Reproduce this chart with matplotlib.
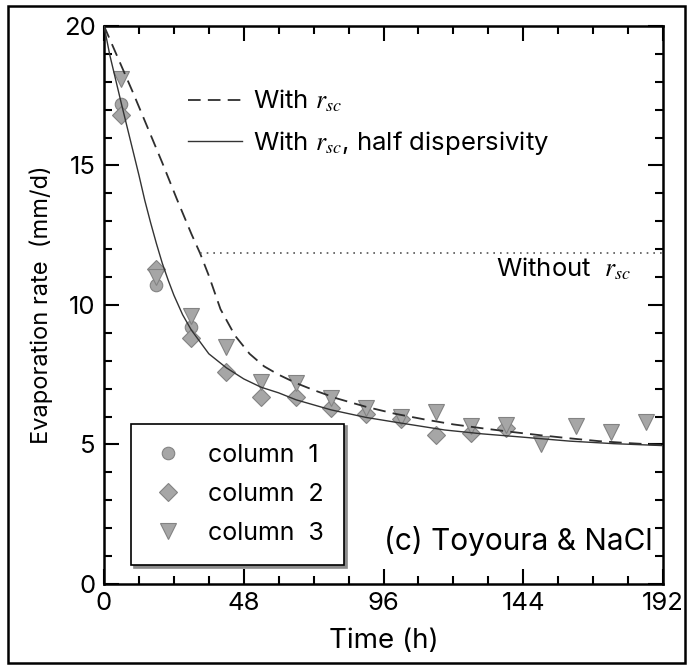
import matplotlib
matplotlib.use('Agg')
import matplotlib.pyplot as plt
from matplotlib.patches import Rectangle
from matplotlib.ticker import MultipleLocator

plt.rcParams['font.family'] = ['Inter', 'DejaVu Sans']
plt.rcParams['mathtext.fontset'] = 'stix'

# measured evaporation rates (mm/d), sampled every 12 h starting at 6 h
t_col1 = [6, 18, 30]
e_col1 = [17.2, 10.7, 9.2]
t_col2 = [6, 18, 30, 42, 54, 66, 78, 90, 102, 114, 126, 138]
e_col2 = [16.8, 11.3, 8.8, 7.6, 6.7, 6.7, 6.3, 6.1, 5.9, 5.35, 5.4, 5.6]
t_col3 = [6, 18, 30, 42, 54, 66, 78, 90, 102, 114, 126, 138, 150, 162, 174, 186]
e_col3 = [18.1, 11.0, 9.6, 8.5, 7.25, 7.2, 6.65, 6.3, 6.0, 6.15, 5.65, 5.7, 5.0, 5.65, 5.45, 5.8]

# simulated curves
t_rsc = [0, 5, 10, 15, 20, 25, 30, 33, 36, 40, 45, 50, 55, 60, 66, 72, 80, 90,
         100, 110, 120, 130, 140, 150, 160, 170, 180, 192]
e_rsc = [20, 18.8, 17.6, 16.35, 15.1, 13.8, 12.55, 11.85, 11.05, 9.85, 8.9, 8.25, 7.8,
         7.5, 7.2, 6.95, 6.65, 6.35, 6.1, 5.9, 5.72, 5.58, 5.45, 5.33, 5.22, 5.12, 5.05, 4.98]
t_half = [0, 2, 6, 10, 12, 14, 16, 18, 20, 22, 24, 27, 30, 36, 42, 48, 54, 60, 66,
          78, 90, 100, 117, 130, 143, 160, 175, 192]
e_half = [20, 18.95, 17.2, 15.5, 14.65, 13.75, 12.95, 12.2, 11.5, 10.9, 10.35, 9.65,
          9.1, 8.25, 7.75, 7.35, 7.05, 6.85, 6.6, 6.24, 5.97, 5.8, 5.52, 5.38, 5.27,
          5.12, 5.03, 4.96]
t_without = [33, 192]
e_without = [11.85, 11.85]

fig = plt.figure(figsize=(6.87, 6.65), dpi=100)
ax = fig.add_axes([0.1514, 0.1218, 0.8137, 0.8392])

mk = dict(linestyle='none', markerfacecolor='#a6a6a6', markeredgecolor='#838383',
          markeredgewidth=0.8, zorder=2)
h1, = ax.plot(t_col1, e_col1, marker='o', markersize=9, label='column  1', **mk)
h2, = ax.plot(t_col2, e_col2, marker='D', markersize=9, label='column  2', **mk)
h3, = ax.plot(t_col3, e_col3, marker='v', markersize=11, label='column  3', **mk)

l1, = ax.plot(t_rsc, e_rsc, color='#2e2e2e', lw=1.3, dashes=(7, 4), zorder=3,
              label=r'With $r_{sc}$')
l2, = ax.plot(t_half, e_half, color='#333333', lw=1.0, zorder=3,
              label=r'With $r_{sc}$, half dispersivity')
ax.plot(t_without, e_without, color='#555555', lw=1.2, linestyle=(0, (1, 3)), zorder=3)

ax.text(134.5, 11.3, r'Without  $r_{sc}$', fontsize=18.5, va='center', ha='left')
ax.text(188.5, 1.55, '(c) Toyoura & NaCl', fontsize=21.5, va='center', ha='right')

ax.set_xlim(0, 192)
ax.set_ylim(0, 20)
ax.xaxis.set_major_locator(MultipleLocator(48))
ax.xaxis.set_minor_locator(MultipleLocator(12))
ax.yaxis.set_major_locator(MultipleLocator(5))
ax.yaxis.set_minor_locator(MultipleLocator(1))
ax.tick_params(which='both', direction='in', top=True, right=True, width=1.5,
               labelsize=18.5, pad=6)
ax.tick_params(which='major', length=11)
ax.tick_params(which='minor', length=6)
for s in ax.spines.values():
    s.set_linewidth(1.8)

ax.set_xlabel('Time (h)', fontsize=20, labelpad=9)
ax.set_ylabel('Evaporation rate  (mm/d)', fontsize=17, labelpad=8)

leg1 = ax.legend(handles=[h1, h2, h3], loc='lower left', bbox_to_anchor=(0.048, 0.034),
                 borderaxespad=0, fancybox=False, edgecolor='black', framealpha=1,
                 shadow={'color': '0.55', 'alpha': 1}, fontsize=18, borderpad=0.8,
                 labelspacing=0.65, handletextpad=0.9, handlelength=1.4)
leg1.get_frame().set_linewidth(1.2)
ax.add_artist(leg1)
ax.legend(handles=[l1, l2], loc='upper left', bbox_to_anchor=(0.150, 0.889),
          borderaxespad=0, borderpad=0, frameon=False, fontsize=18.5,
          handlelength=2.1, handletextpad=0.45, labelspacing=0.55)

fig.add_artist(Rectangle((8 / 687, 1 - 663 / 665), 677 / 687, 657 / 665,
                         transform=fig.transFigure, fill=False, edgecolor='black', lw=1.8))

fig.savefig('out.png', dpi=100)
